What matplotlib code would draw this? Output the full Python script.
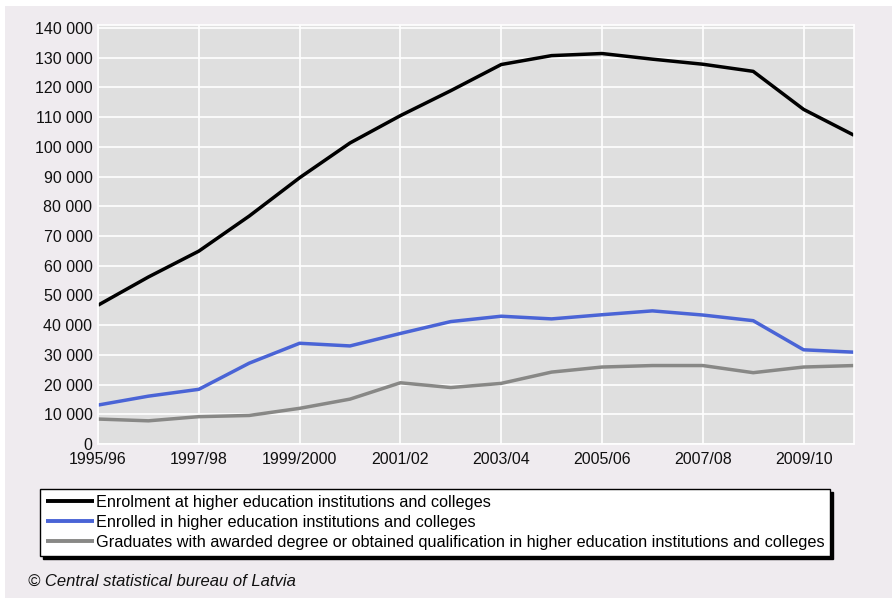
import matplotlib
matplotlib.use("Agg")
import matplotlib.pyplot as plt
from matplotlib.patches import Rectangle
from matplotlib.ticker import FuncFormatter

plt.rcParams['font.family'] = ['Liberation Sans', 'DejaVu Sans']

years = ["1995/96", "1996/97", "1997/98", "1998/99", "1999/2000", "2000/01",
         "2001/02", "2002/03", "2003/04", "2004/05", "2005/06", "2006/07",
         "2007/08", "2008/09", "2009/10", "2010/11"]

enrolment = [46700, 56200, 64900, 76700, 89600, 101300, 110500, 118900,
             127700, 130700, 131400, 129500, 127800, 125400, 112600, 103900]
enrolled = [13100, 16100, 18400, 27200, 33900, 33000, 37200, 41200,
            43000, 42100, 43500, 44800, 43400, 41500, 31700, 30900]
graduates = [8400, 7800, 9200, 9600, 12000, 15100, 20600, 19000,
             20400, 24200, 25900, 26400, 26400, 24000, 25900, 26400]

labels = ["Enrolment at higher education institutions and colleges",
          "Enrolled in higher education institutions and colleges",
          "Graduates with awarded degree or obtained qualification in higher education institutions and colleges"]
colors = ["#000000", "#4a64d6", "#888886"]

bg = "#efebef"
fig = plt.figure(figsize=(8.92, 5.98), dpi=100, facecolor="white")
fig.patches.append(Rectangle((5 / 892, 0), 1, 1 - 6 / 598, transform=fig.transFigure,
                             facecolor=bg, edgecolor="none", zorder=-10))

ax = fig.add_axes([98 / 892, 1 - 444 / 598, (854 - 98) / 892, (444 - 25) / 598])
ax.set_facecolor("#dfdfdf")

x = list(range(len(years)))
for vals, lab, c in zip([enrolment, enrolled, graduates], labels, colors):
    ax.plot(x, vals, color=c, lw=2.5, label=lab, solid_capstyle="butt")

ax.set_xlim(0, len(years) - 1)
ax.set_ylim(0, 141000)
ax.set_xticks(x[::2])
ax.set_xticklabels(years[::2])
ax.set_yticks(range(0, 140001, 10000))
ax.yaxis.set_major_formatter(FuncFormatter(lambda v, p: f"{int(v):,}".replace(",", " ")))
ax.tick_params(length=0, labelsize=11.5, colors="#111111", pad=4)
ax.tick_params(axis="x", pad=6)
ax.grid(True, color="white", lw=1.2)
ax.set_axisbelow(True)
for s in ax.spines.values():
    s.set_color("white")
    s.set_linewidth(1.2)

leg = fig.legend(loc="upper left", bbox_to_anchor=(40 / 892, 1 - 489 / 598),
                 fontsize=11.7, frameon=True, fancybox=False,
                 shadow={"color": "black", "alpha": 1.0},
                 handlelength=3.0, handletextpad=0.1, labelspacing=0.32,
                 borderpad=0.35, borderaxespad=0)
leg.get_frame().set_edgecolor("black")
leg.get_frame().set_linewidth(1.0)
leg.get_frame().set_facecolor("white")
for line in leg.get_lines():
    line.set_linewidth(2.8)

fig.text(28 / 892, 1 - 581 / 598, "© Central statistical bureau of Latvia",
         fontsize=12, style="italic", va="center", ha="left", color="#111111")

fig.savefig("out.png", dpi=100, facecolor=fig.get_facecolor())
